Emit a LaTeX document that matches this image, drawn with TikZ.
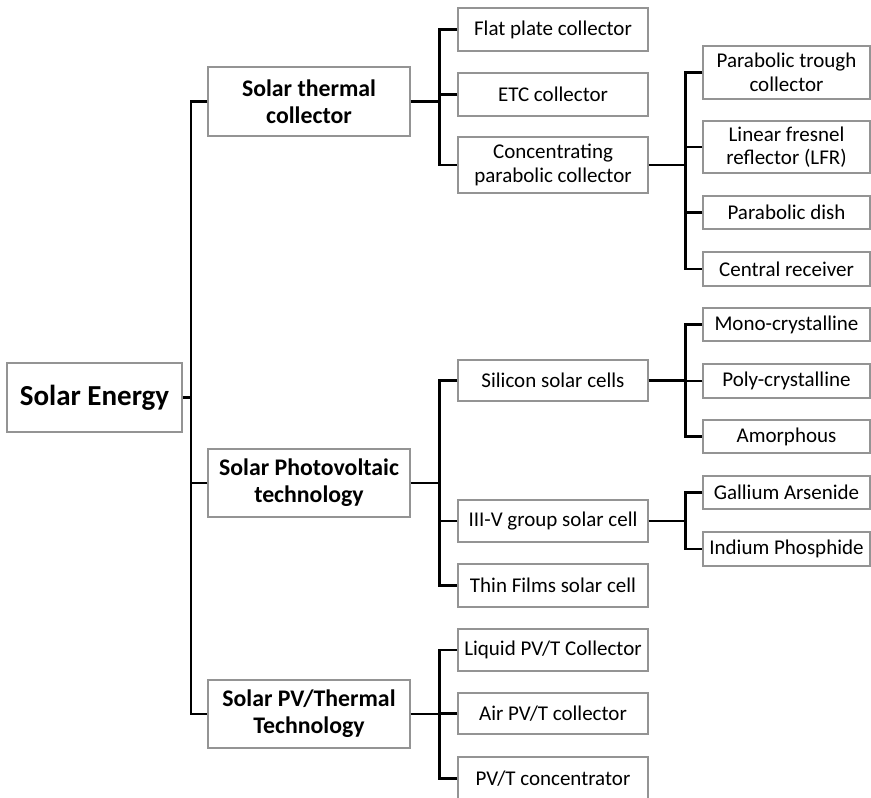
\documentclass[tikz,border=0pt]{standalone}
\usepackage{fontspec}
\setmainfont{Carlito}
\begin{document}
\begin{tikzpicture}[x=1pt,y=-1pt,
  box/.style={draw=black!42, line width=1.1pt, fill=white, rectangle, inner sep=1pt, align=center, anchor=center},
  rootbox/.style={box, minimum width=175pt, minimum height=69pt, font=\fontsize{29}{34}\selectfont\bfseries},
  lone/.style={box, minimum width=202pt, minimum height=68pt, font=\fontsize{23.8}{27}\selectfont\bfseries},
  ltwo/.style={box, minimum width=190pt, font=\fontsize{21}{23.5}\selectfont},
  lthree/.style={box, minimum width=167pt, font=\fontsize{21}{23.5}\selectfont},
  conn/.style={draw=black, line width=2.3pt}]
\useasboundingbox (0,0) rectangle (871,798);

% root
\node[rootbox] (root) at (94.5,397.5) {Solar Energy};

% level 1
\node[lone, minimum height=69pt] (thermal) at (309,101.5) {Solar thermal\\collector};
\node[lone] (pv) at (309,483) {Solar Photovoltaic\\technology};
\node[lone] (pvt) at (309,714) {Solar PV/Thermal\\Technology};

% level 2
\node[ltwo, minimum height=43pt] (flat) at (553,29.5) {Flat plate collector};
\node[ltwo, minimum height=43pt] (etc) at (553,94.5) {ETC collector};
\node[ltwo, minimum height=56pt] (conc) at (553,165) {Concentrating\\parabolic collector};
\node[ltwo, minimum height=41pt] (si) at (553,380.5) {Silicon solar cells};
\node[ltwo, minimum height=42pt] (iiiv) at (553,521) {III-V group solar cell};
\node[ltwo, minimum height=43pt] (thin) at (553,585.5) {Thin Films solar cell};
\node[ltwo, minimum height=42pt] (liq) at (553,650) {Liquid PV/T Collector};
\node[ltwo, minimum height=41pt] (air) at (553,713.5) {Air PV/T collector};
\node[ltwo, minimum height=43pt] (pvtc) at (553,778.5) {PV/T concentrator};

% level 3
\node[lthree, minimum height=53pt] (trough) at (786.5,72.5) {Parabolic trough\\collector};
\node[lthree, minimum height=52pt] (lfr) at (786.5,147) {Linear fresnel\\reflector (LFR)};
\node[lthree, minimum height=33pt] (dish) at (786.5,212.5) {Parabolic dish};
\node[lthree, minimum height=34pt] (central) at (786.5,269) {Central receiver};
\node[lthree, minimum height=33pt] (mono) at (786.5,324.5) {Mono-crystalline};
\node[lthree, minimum height=34pt] (poly) at (786.5,381) {Poly-crystalline};
\node[lthree, minimum height=33pt] (amor) at (786.5,436.5) {Amorphous};
\node[lthree, minimum height=33pt] (gaas) at (786.5,492.5) {Gallium Arsenide};
\node[lthree, minimum height=34pt] (inp) at (786.5,549) {Indium Phosphide};

% connectors: root to level 1
\draw[conn] (thermal.west) -- ++(-16.5,0) coordinate (ta) -- (ta |- pvt.west) -- (pvt.west);
\draw[conn] (pv.west) -- (pv.west -| ta);
\draw[conn] (root.east) -- (root.east -| ta);

% thermal branch
\draw[conn] (flat.west) -- ++(-18,0) coordinate (tb) -- (tb |- conc.west) -- (conc.west);
\draw[conn] (etc.west) -- (etc.west -| tb);
\draw[conn] (thermal.east) -- (thermal.east -| tb);

% concentrating branch
\draw[conn] (trough.west) -- ++(-17,0) coordinate (tc) -- (tc |- central.west) -- (central.west);
\draw[conn] (lfr.west) -- (lfr.west -| tc);
\draw[conn] (dish.west) -- (dish.west -| tc);
\draw[conn] (conc.east) -- (conc.east -| tc);

% PV branch
\draw[conn] (si.west) -- ++(-18,0) coordinate (td) -- (td |- thin.west) -- (thin.west);
\draw[conn] (iiiv.west) -- (iiiv.west -| td);
\draw[conn] (pv.east) -- (pv.east -| td);

% silicon branch
\draw[conn] (mono.west) -- ++(-17,0) coordinate (te) -- (te |- amor.west) -- (amor.west);
\draw[conn] (poly.west) -- (poly.west -| te);
\draw[conn] (si.east) -- (si.east -| te);

% III-V branch
\draw[conn] (gaas.west) -- ++(-17,0) coordinate (tf) -- (tf |- inp.west) -- (inp.west);
\draw[conn] (iiiv.east) -- (iiiv.east -| tf);

% PV/T branch
\draw[conn] (liq.west) -- ++(-18,0) coordinate (tg) -- (tg |- pvtc.west) -- (pvtc.west);
\draw[conn] (air.west) -- (air.west -| tg);
\draw[conn] (pvt.east) -- (pvt.east -| tg);
\end{tikzpicture}
\end{document}
